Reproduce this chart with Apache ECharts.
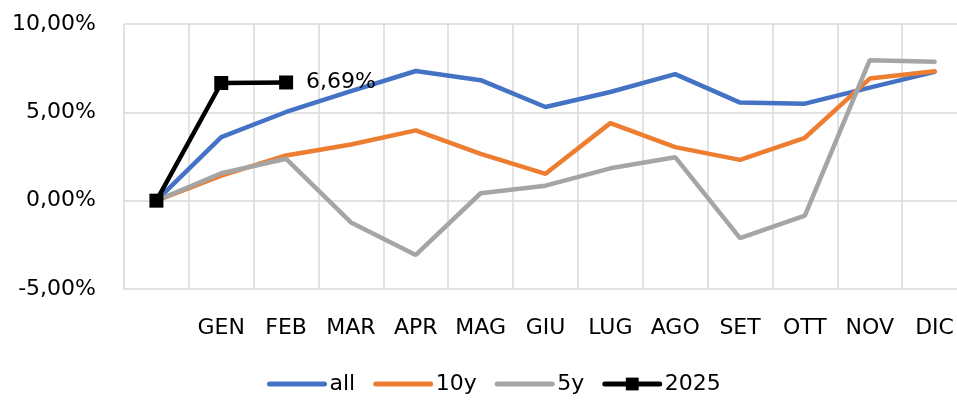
<!DOCTYPE html>
<html>
<head>
    <meta charset="utf-8">
    <title>all / 10y / 5y / 2025</title>
    <script src="https://cdn.jsdelivr.net/npm/echarts@6/dist/echarts.min.js"></script>
</head>
<body style="margin:0">
<div id="main" style="width: 957px;height:400px;"></div>
<script type="text/javascript">
    // categorie (la prima è il punto di partenza, senza etichetta)
    var mesi = ['', 'GEN', 'FEB', 'MAR', 'APR', 'MAG', 'GIU', 'LUG', 'AGO', 'SET', 'OTT', 'NOV', 'DIC'];

    // valori in %
    var serieAll = [0, 3.60, 5.02, 6.20, 7.34, 6.82, 5.30, 6.15, 7.16, 5.55, 5.49, 6.40, 7.29];
    var serie10y = [0, 1.42, 2.56, 3.18, 3.98, 2.65, 1.52, 4.39, 3.03, 2.31, 3.56, 6.91, 7.33];
    var serie5y = [0, 1.55, 2.37, -1.23, -3.07, 0.42, 0.85, 1.83, 2.46, -2.12, -0.85, 7.95, 7.86];
    var serie2025 = [0, 6.66, 6.69];

    var yTicks = [-5, 0, 5, 10];

    function pct(v) {
        return v.toFixed(2).replace('.', ',') + '%';
    }

    var font = '"DejaVu Sans", sans-serif';

    // etichetta solo sull'ultimo punto del 2025
    var dati2025 = serie2025.map(function (v, i) {
        if (i === serie2025.length - 1) {
            return {
                value: v,
                label: {
                    show: true,
                    position: 'right',
                    distance: 13,
                    formatter: function (p) { return pct(p.value); },
                    fontSize: 22,
                    fontFamily: font,
                    color: '#000'
                }
            };
        }
        return v;
    });

    var myChart = echarts.init(document.getElementById('main'));

    var option = {
        animation: false,
        grid: {
            left: 124,
            top: 24,
            width: 843,
            height: 265,
            outerBoundsMode: 'none'
        },
        legend: {
            bottom: 0,
            left: 262,
            itemWidth: 55,
            itemHeight: 16,
            itemGap: 18,
            lineStyle: { width: 5, cap: 'round' },
            textStyle: { fontSize: 22, fontFamily: font, color: '#000' },
            // niente simbolo sulle linee semplici
            data: [
                { name: 'all', itemStyle: { opacity: 0 } },
                { name: '10y', itemStyle: { opacity: 0 } },
                { name: '5y', itemStyle: { opacity: 0 } },
                { name: '2025' }
            ]
        },
        xAxis: {
            type: 'category',
            data: mesi,
            boundaryGap: true,
            axisLine: { show: false },
            axisTick: { show: false },
            axisLabel: {
                interval: 0,
                margin: 28,
                fontSize: 22,
                fontFamily: font,
                color: '#000'
            },
            splitLine: { show: true, lineStyle: { color: '#d9d9d9', width: 1.5 } }
        },
        yAxis: {
            type: 'value',
            min: yTicks[0],
            max: yTicks[yTicks.length - 1],
            interval: 5,
            axisLine: { show: false },
            axisTick: { show: false },
            axisLabel: {
                margin: 28,
                fontSize: 22,
                fontFamily: font,
                color: '#000',
                formatter: pct
            },
            splitLine: { show: true, lineStyle: { color: '#d9d9d9', width: 1.5 } }
        },
        series: [{
            name: 'all',
            type: 'line',
            symbol: 'none',
            lineStyle: { width: 4.5, color: '#4472c4', cap: 'round' },
            itemStyle: { color: '#4472c4' },
            data: serieAll
        }, {
            name: '10y',
            type: 'line',
            symbol: 'none',
            lineStyle: { width: 4.5, color: '#ed7d31', cap: 'round' },
            itemStyle: { color: '#ed7d31' },
            data: serie10y
        }, {
            name: '5y',
            type: 'line',
            symbol: 'none',
            lineStyle: { width: 4.5, color: '#a5a5a5', cap: 'round' },
            itemStyle: { color: '#a5a5a5' },
            data: serie5y
        }, {
            name: '2025',
            type: 'line',
            symbol: 'rect',
            symbolSize: 14,
            lineStyle: { width: 4.5, color: '#000' },
            itemStyle: { color: '#000' },
            data: dati2025
        }]
    };

    myChart.setOption(option);
</script>
</body>
</html>
